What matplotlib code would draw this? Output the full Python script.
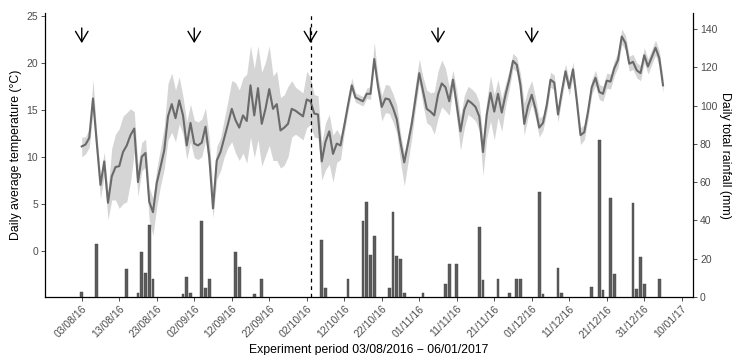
import matplotlib
matplotlib.use('Agg')
import matplotlib.pyplot as plt
import matplotlib.dates as mdates
import numpy as np
import pandas as pd

plt.rcParams['font.family'] = ['Liberation Sans', 'DejaVu Sans']

start = pd.Timestamp('2016-08-03')

# daily mean temperature, 03/08/2016 onwards
temp = [
    11.1, 11.3, 12.0, 16.2, 11.5, 7.0, 9.5, 5.1, 7.9, 8.9,
    9.0, 10.5, 11.2, 12.3, 13.0, 7.3, 10.0, 10.4, 5.2, 4.1,
    7.2, 8.9, 10.7, 14.3, 15.6, 14.1, 16.0, 14.4, 11.2, 13.6,
    11.4, 11.2, 11.5, 13.2, 10.0, 4.5, 9.6, 10.5, 12.0, 13.5,
    15.1, 13.9, 13.1, 14.4, 13.8, 17.6, 14.4, 17.3, 13.5, 15.1,
    17.2, 15.1, 15.6, 12.8, 13.1, 13.5, 15.1, 14.9, 14.6, 14.3,
    16.1, 15.9, 14.6, 14.5, 9.5, 11.6, 12.7, 10.3, 11.4, 11.2,
    13.3, 15.5, 17.6, 16.3, 16.1, 15.9, 16.7, 16.7, 20.4, 17.5,
    15.3, 16.2, 16.1, 15.2, 14.0, 11.5, 9.4, 11.4, 13.5, 16.2,
    18.9, 17.0, 15.1, 14.8, 14.4, 16.6, 17.8, 17.4, 15.9, 18.2,
    15.5, 12.7, 15.0, 16.0, 15.7, 15.3, 14.3, 10.5, 14.5, 16.8,
    14.8, 16.7, 14.7, 16.6, 18.2, 20.2, 19.8, 17.6, 13.5, 15.4,
    16.6, 15.1, 13.1, 13.6, 15.5, 18.2, 17.9, 14.5, 16.9, 19.1,
    17.3, 19.3, 16.0, 12.3, 12.6, 14.8, 17.4, 18.4, 16.9, 16.7,
    18.1, 18.0, 19.4, 20.3, 22.8, 22.1, 19.9, 20.1, 19.2, 18.9,
    20.8, 19.6, 20.6, 21.6, 20.5, 17.6,
]

# spread of the grey band above / below the mean
band_up = [
    1.0, 0.8, 1.0, 2.0, 1.0, 1.0, 1.0, 1.2, 3.0, 3.5,
    4.0, 3.8, 3.5, 2.8, 1.8, 1.8, 1.5, 1.5, 1.5, 1.5,
    1.5, 2.0, 2.5, 3.5, 3.3, 3.0, 2.5, 2.0, 2.5, 2.0,
    2.5, 2.5, 2.5, 2.0, 2.0, 2.0, 1.5, 1.5, 2.0, 2.5,
    3.0, 4.0, 4.0, 4.0, 5.0, 4.2, 5.0, 4.5, 5.5, 5.0,
    4.6, 3.5, 3.5, 3.5, 3.5, 4.0, 3.0, 2.5, 2.5, 2.5,
    3.0, 2.5, 2.0, 2.0, 2.0, 2.0, 1.8, 2.0, 1.5, 1.0,
    0.8, 0.7, 0.8, 0.5, 0.5, 0.5, 0.6, 0.8, 1.8, 1.0,
    1.2, 1.5, 1.5, 1.5, 1.5, 1.0, 1.0, 1.0, 1.2, 1.5,
    1.5, 1.5, 2.0, 2.0, 2.5, 2.5, 2.5, 2.0, 1.5, 1.0,
    1.5, 1.5, 1.5, 1.5, 1.5, 1.5, 1.5, 1.5, 1.5, 1.8,
    1.8, 1.5, 1.5, 1.2, 1.0, 0.8, 0.8, 1.2, 2.2, 1.8,
    1.5, 1.2, 1.0, 0.8, 0.8, 0.8, 0.8, 0.8, 0.8, 0.8,
    0.8, 0.8, 0.8, 0.8, 0.8, 0.8, 0.8, 0.8, 0.8, 0.8,
    0.8, 0.8, 0.8, 0.8, 0.8, 0.8, 0.8, 0.8, 0.8, 0.8,
    0.8, 0.8, 0.8, 0.8, 0.8, 0.8,
]
band_dn = [
    1.1, 1.0, 1.0, 1.5, 1.5, 1.5, 1.5, 1.8, 2.5, 3.5,
    4.5, 5.5, 6.0, 5.0, 2.5, 1.5, 1.5, 1.5, 2.0, 2.5,
    2.5, 2.0, 2.0, 2.5, 3.0, 2.5, 2.5, 2.0, 1.5, 2.0,
    1.5, 1.5, 1.5, 1.5, 1.5, 1.0, 2.0, 2.0, 2.0, 2.5,
    3.5, 3.5, 3.5, 4.0, 4.5, 5.5, 4.5, 5.5, 4.5, 5.0,
    6.0, 5.5, 6.0, 4.0, 4.0, 3.5, 3.0, 2.5, 2.5, 2.5,
    3.0, 2.5, 2.5, 2.5, 2.0, 3.0, 3.5, 3.0, 2.0, 1.5,
    0.8, 0.7, 0.6, 0.5, 0.5, 0.5, 0.5, 0.6, 0.8, 1.0,
    1.5, 1.5, 1.5, 1.5, 1.5, 2.0, 2.5, 2.0, 1.5, 1.0,
    1.0, 1.5, 1.5, 1.5, 2.0, 2.5, 2.5, 2.5, 1.5, 1.0,
    1.5, 2.0, 2.0, 1.5, 1.5, 1.5, 1.5, 2.5, 2.5, 3.0,
    3.0, 2.5, 2.0, 1.2, 1.0, 0.8, 0.8, 1.2, 1.2, 1.2,
    1.0, 1.0, 1.0, 0.8, 0.8, 0.8, 0.8, 0.8, 0.8, 0.8,
    0.8, 0.8, 0.8, 1.0, 0.8, 0.8, 0.8, 0.8, 0.8, 0.8,
    0.8, 0.8, 0.8, 0.8, 0.8, 0.8, 0.8, 0.8, 0.8, 0.8,
    0.8, 0.8, 0.8, 0.8, 0.8, 0.8,
]

# rainfall: day number (0 = 03/08/2016) and total mm
rain_day = [0, 4, 12, 15, 16, 17, 18, 19, 27, 28, 29, 32, 33, 34, 41, 42,
            46, 48, 64, 65, 71, 75, 76, 77, 78, 82, 83, 84, 85, 86, 91, 97,
            98, 100, 106, 107, 111, 114, 116, 117, 122, 123, 127, 128, 136,
            138, 139, 141, 142, 147, 148, 149, 150, 154]
rain_mm = [2.6, 27.6, 14.8, 2.1, 23.6, 12.6, 37.5, 9.6, 1.4, 10.5, 2.1,
           39.6, 4.7, 9.6, 23.6, 15.7, 1.4, 9.6, 29.7, 4.7, 9.6, 39.6, 49.7,
           22.2, 31.8, 4.7, 44.5, 21.5, 19.6, 2.1, 2.1, 7.0, 17.1, 17.1,
           36.6, 8.7, 9.6, 2.1, 9.6, 9.6, 55.0, 1.8, 15.0, 2.0, 5.0, 82.0,
           3.5, 51.5, 12.2, 49.0, 4.4, 21.0, 7.0, 9.6]

# sampling dates (arrows) and the dashed line
arrow_dates = ['2016-08-03', '2016-09-02', '2016-10-03', '2016-11-06', '2016-12-01']
dashed_date = '2016-10-03'

temp = np.array(temp)
dates = pd.date_range(start, periods=len(temp), freq='D')
lo = temp - np.array(band_dn)
hi = temp + np.array(band_up)
rain_dates = [start + pd.Timedelta(days=d) for d in rain_day]

fig = plt.figure(figsize=(7.33, 3.55), dpi=100)
ax = fig.add_axes([45 / 733, 1 - 297 / 355, 648 / 733, 284 / 355])
ax2 = ax.twinx()

ax.fill_between(dates, lo, hi, color='#d5d5d5', lw=0)
ax.plot(dates, temp, color='#6a6a6a', lw=1.5)
ax2.bar(rain_dates, rain_mm, width=0.8, color='#5c5c5c', edgecolor='#404040', lw=0.3)

ax.axvline(pd.Timestamp(dashed_date), color='black', lw=0.9, ls=(0, (3, 3)))
for d in arrow_dates:
    ax.annotate('', xy=(pd.Timestamp(d), 21.8), xytext=(pd.Timestamp(d), 24.0),
                arrowprops=dict(arrowstyle='->, head_length=0.5, head_width=0.3',
                                color='black', lw=1.0, mutation_scale=15))

ax.set_xlim(start - pd.Timedelta(days=9.8), start + pd.Timedelta(days=163))
ax.set_ylim(-4.93, 25.3)
ax2.set_ylim(0, 148.4)

xticks = pd.date_range(start, '2017-01-10', freq='10D')
ax.set_xticks(xticks)
ax.xaxis.set_major_formatter(mdates.DateFormatter('%d/%m/%y'))
ax.set_yticks([0, 5, 10, 15, 20, 25])
ax2.set_yticks([0, 20, 40, 60, 80, 100, 120, 140])
plt.setp(ax.get_xticklabels(), rotation=45, ha='right', va='top',
         rotation_mode='anchor')

for a in (ax, ax2):
    a.spines['top'].set_visible(False)
    a.tick_params(direction='out', length=3, width=0.6, color='#333333',
                  labelsize=7.5, labelcolor='#4d4d4d', pad=2)
ax.spines['right'].set_visible(False)
ax2.spines['left'].set_visible(False)
ax.spines['left'].set_linewidth(0.9)
ax.spines['bottom'].set_linewidth(0.9)
ax2.spines['right'].set_linewidth(0.9)
ax2.spines['bottom'].set_visible(False)

ax.set_ylabel('Daily average temperature (\u00b0C)', fontsize=8.8)
ax.yaxis.set_label_coords(-0.035, 0.5)
ax2.set_ylabel('Daily total rainfall (mm)', fontsize=8.8, rotation=270, va='center')
ax2.yaxis.set_label_coords(1.05, 0.5)
ax.set_xlabel('Experiment period 03/08/2016 \u2212 06/01/2017', fontsize=8.8)
ax.xaxis.set_label_coords(0.5, -0.187)
ax.xaxis.label.set_va('center')

fig.savefig('out.png', dpi=100)
